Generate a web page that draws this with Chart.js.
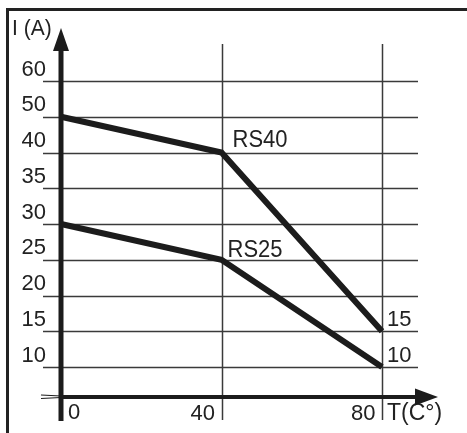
<!DOCTYPE html>
<html>
<head>
<meta charset="utf-8">
<script src="https://cdn.jsdelivr.net/npm/chart.js@4/dist/chart.umd.min.js"></script>
<style>
html,body{margin:0;padding:0;background:#fff;}
#wrap{width:467px;height:433px;}
</style>
</head>
<body>
<div id="wrap"><canvas id="c" width="467" height="433"></canvas></div>
<script>
// ---- data ----
const yTickLabels = [60, 50, 40, 35, 30, 25, 20, 15, 10];
const xTickLabels = [0, 40, 80];
const temps = [0, 40, 80];
const rs40 = [50, 40, 15];
const rs25 = [30, 25, 10];
const seriesNames = ['RS40', 'RS25'];
const endLabels = ['15', '10'];
const yTitle = 'I (A)';
const xTitle = 'T(C°)';

const FONT = "'Liberation Sans', Arial, Helvetica, sans-serif";
const INK = '#1c1c1c';
const GRID = '#3a3a3a';

function toPoints(vals){ return temps.map((t,i)=>({x:t, y:String(vals[i])})); }

// text drawn slightly stretched vertically, like the reference lettering
function tallText(ctx, s, px, py, k){
  ctx.save();
  ctx.translate(px, py);
  ctx.scale(1, k);
  ctx.fillText(s, 0, 0);
  ctx.restore();
}

const decor = {
  id:'decor',
  beforeDatasetsDraw(chart){
    const {ctx, scales:{x, y}} = chart;
    ctx.save();
    // outer frame (top and left)
    ctx.strokeStyle = '#222';
    ctx.lineWidth = 3;
    ctx.beginPath();
    ctx.moveTo(7.5, 433); ctx.lineTo(7.5, 9.5); ctx.lineTo(467, 9.5);
    ctx.stroke();

    const x0 = x.getPixelForValue(0);
    const xEnd = x.getPixelForValue(80);
    // horizontal grid lines
    ctx.strokeStyle = GRID;
    ctx.lineWidth = 1.5;
    yTickLabels.forEach((v, i) => {
      const py = Math.round(y.getPixelForValue(i)) + 0.5;
      ctx.beginPath(); ctx.moveTo(x0 - 18, py); ctx.lineTo(xEnd + 36, py); ctx.stroke();
    });
    // vertical grid lines (not at 0)
    const yTop = y.getPixelForValue(0);
    const yBot = y.getPixelForValue(yTickLabels.length - 1);
    xTickLabels.forEach(v => {
      if (v === 0) return;
      const px = Math.round(x.getPixelForValue(v)) + 0.5;
      ctx.beginPath(); ctx.moveTo(px, yTop - 37); ctx.lineTo(px, yBot + 53); ctx.stroke();
    });

    // tick labels
    ctx.fillStyle = '#222';
    ctx.font = '22px ' + FONT;
    ctx.textAlign = 'right';
    ctx.textBaseline = 'alphabetic';
    yTickLabels.forEach((v, i) => {
      const py = y.getPixelForValue(i);
      tallText(ctx, String(v), x0 - 15, py - 5.5, 1.04);
    });
    const xAxisY = yBot + 30;
    xTickLabels.forEach((v, i) => {
      const px = x.getPixelForValue(v);
      if (i === 0) { ctx.textAlign = 'left'; tallText(ctx, String(v), px + 7, xAxisY + 22, 1.04); }
      else { ctx.textAlign = 'right'; tallText(ctx, String(v), px - 6.5, xAxisY + 22.5, 1.04); }
    });
    // axis titles
    ctx.textAlign = 'left';
    ctx.font = '21px ' + FONT;
    tallText(ctx, yTitle, 12, 35, 1.05);
    ctx.font = '23px ' + FONT;
    tallText(ctx, xTitle, xEnd + 5, xAxisY + 23, 1.05);
    ctx.restore();
  },
  afterDatasetsDraw(chart){
    const {ctx, scales:{x, y}} = chart;
    ctx.save();
    const x0 = x.getPixelForValue(0);
    const xEnd = x.getPixelForValue(80);
    const yTop = y.getPixelForValue(0);
    const yBot = y.getPixelForValue(yTickLabels.length - 1);
    const xAxisY = yBot + 30;
    ctx.fillStyle = INK;
    ctx.strokeStyle = INK;
    // y axis shaft + arrow
    ctx.lineWidth = 5;
    ctx.beginPath(); ctx.moveTo(x0, yBot + 54); ctx.lineTo(x0, yTop - 32); ctx.stroke();
    ctx.beginPath(); ctx.moveTo(x0, yTop - 53); ctx.lineTo(x0 - 8, yTop - 30); ctx.lineTo(x0 + 8, yTop - 30); ctx.closePath(); ctx.fill();
    // x axis shaft + arrow
    ctx.lineWidth = 4;
    ctx.beginPath(); ctx.moveTo(x0, xAxisY); ctx.lineTo(xEnd + 35, xAxisY); ctx.stroke();
    ctx.beginPath(); ctx.moveTo(xEnd + 56, xAxisY); ctx.lineTo(xEnd + 33, xAxisY - 8.5); ctx.lineTo(xEnd + 33, xAxisY + 8.5); ctx.closePath(); ctx.fill();
    // break stub left of y axis
    ctx.lineWidth = 1.2;
    ctx.beginPath(); ctx.moveTo(x0 - 20, xAxisY - 2); ctx.lineTo(x0, xAxisY - 1); ctx.stroke();
    ctx.beginPath(); ctx.moveTo(x0 - 20, xAxisY + 1.5); ctx.lineTo(x0, xAxisY + 0.5); ctx.stroke();

    // series annotations
    ctx.fillStyle = '#222';
    ctx.font = '22px ' + FONT;
    ctx.textAlign = 'left';
    ctx.textBaseline = 'alphabetic';
    const m0 = chart.getDatasetMeta(0).data, m1 = chart.getDatasetMeta(1).data;
    tallText(ctx, seriesNames[0], m0[1].x + 11, m0[1].y - 6, 1.1);
    tallText(ctx, seriesNames[1], m1[1].x + 6, m1[1].y - 3, 1.1);
    tallText(ctx, endLabels[0], m0[2].x + 5, m0[2].y - 5, 1.04);
    tallText(ctx, endLabels[1], m1[2].x + 5, m1[2].y - 5, 1.04);
    ctx.restore();
  }
};

new Chart(document.getElementById('c'), {
  type: 'line',
  data: {
    datasets: [
      { label: seriesNames[0], data: toPoints(rs40), borderColor: INK, borderWidth: 6, pointRadius: 0, tension: 0, clip: false, borderJoinStyle: 'miter', borderCapStyle: 'butt' },
      { label: seriesNames[1], data: toPoints(rs25), borderColor: INK, borderWidth: 6, pointRadius: 0, tension: 0, clip: false, borderJoinStyle: 'miter', borderCapStyle: 'butt' }
    ]
  },
  options: {
    responsive: false,
    animation: false,
    devicePixelRatio: 1,
    layout: { padding: { left: 61, right: 85, top: 81, bottom: 66 } },
    plugins: { legend: { display: false }, tooltip: { enabled: false } },
    scales: {
      x: { type: 'linear', min: 0, max: 80, display: false },
      y: { type: 'category', labels: yTickLabels.map(String), offset: false, display: false }
    }
  },
  plugins: [decor]
});
</script>
</body>
</html>
